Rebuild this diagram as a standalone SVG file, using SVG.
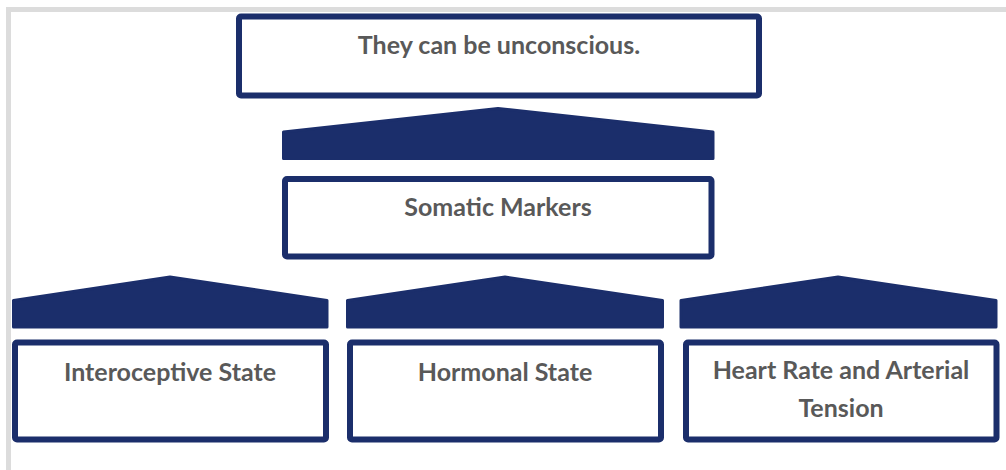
<svg xmlns="http://www.w3.org/2000/svg" width="1006" height="470" viewBox="0 0 1006 470">
<style>
.frame{fill:none;stroke:#dcdcdc;stroke-width:5}
.box{fill:#ffffff;stroke:#1b2e6b;stroke-width:6}
.chev{fill:#1b2e6b;stroke:#1b2e6b;stroke-width:3;stroke-linejoin:round}
.t{font-family:Lato,"Liberation Sans",sans-serif;font-weight:bold;font-size:25px;fill:#595959;text-anchor:middle}
</style>
<rect width="1006" height="470" fill="#ffffff"/>
<rect class="frame" x="8.5" y="9.5" width="1020" height="480"/>
<g id="connectors">
<path class="chev" d="M283.5,132 L498,108.5 L713,132 L713,158.5 L283.5,158.5 Z"/>
<path class="chev" d="M13.5,300.5 L170,277 L327,300.5 L327,327 L13.5,327 Z"/>
<path class="chev" d="M347.5,300.5 L505,277 L662.5,300.5 L662.5,327 L347.5,327 Z"/>
<path class="chev" d="M681,300.5 L838,277 L996,300.5 L996,327 L681,327 Z"/>
</g>
<g id="node-top">
<rect class="box" x="239" y="16.5" width="520" height="79" rx="2"/>
<text class="t" x="499" y="54">They can be unconscious.</text>
</g>
<g id="node-somatic">
<rect class="box" x="285" y="179" width="426.5" height="77.5" rx="2"/>
<text class="t" x="498" y="216">Somatic Markers</text>
</g>
<g id="node-interoceptive">
<rect class="box" x="15" y="342.5" width="311" height="97" rx="2"/>
<text class="t" x="170" y="381">Interoceptive State</text>
</g>
<g id="node-hormonal">
<rect class="box" x="350" y="342.5" width="311" height="97" rx="2"/>
<text class="t" x="505" y="381">Hormonal State</text>
</g>
<g id="node-heart">
<rect class="box" x="686" y="342.5" width="310.5" height="97" rx="2"/>
<text class="t" x="841" y="379">Heart Rate and Arterial</text>
<text class="t" x="841" y="417">Tension</text>
</g>
</svg>
